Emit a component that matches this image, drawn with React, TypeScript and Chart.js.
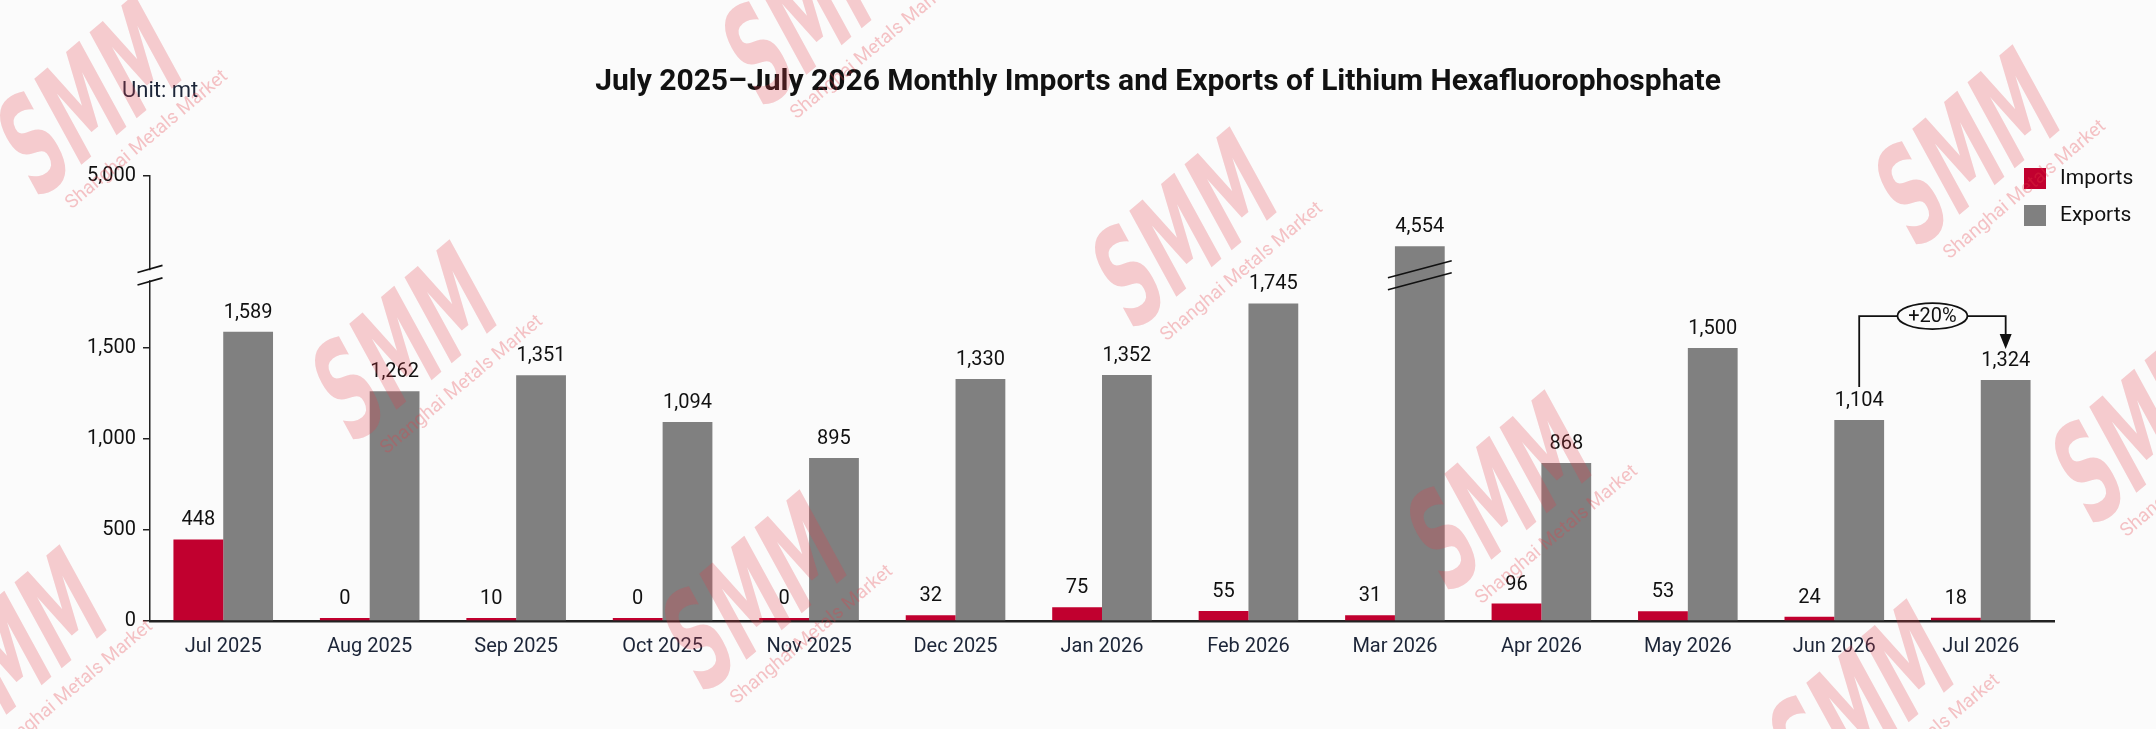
import React, { useEffect, useRef } from 'react';
import { Chart, registerables } from 'chart.js';

Chart.register(...registerables);

const months = [
  'Jul 2025', 'Aug 2025', 'Sep 2025', 'Oct 2025', 'Nov 2025', 'Dec 2025', 'Jan 2026',
  'Feb 2026', 'Mar 2026', 'Apr 2026', 'May 2026', 'Jun 2026', 'Jul 2026',
];
const imports = [448, 0, 10, 0, 0, 32, 75, 55, 31, 96, 53, 24, 18];
const exports = [1589, 1262, 1351, 1094, 895, 1330, 1352, 1745, 4554, 868, 1500, 1104, 1324];
const yTickValues = [0, 500, 1000, 1500, 5000];
const seriesNames = ['Imports', 'Exports'];
const seriesColors = ['#c1002f', '#808080'];

const TITLE = 'July 2025\u2013July 2026 Monthly Imports and Exports of Lithium Hexafluorophosphate';
const UNIT = 'Unit: mt';

// broken y axis: 0..BREAK_FROM to scale, then a gap, then BREAK_TO..5000 squeezed
const BREAK_FROM = 1875;
const BREAK_TO = 4400;
const BREAK_GAP = 50;
const UPPER_SCALE = 0.867;

const toAxis = (v: number) =>
  v <= BREAK_FROM ? v : BREAK_FROM + BREAK_GAP + Math.max(v - BREAK_TO, 0) * UPPER_SCALE;
const fromAxis = (t: number) =>
  t <= BREAK_FROM ? t : BREAK_TO + (t - BREAK_FROM - BREAK_GAP) / UPPER_SCALE;

const FONT = 'Roboto, "Noto Sans", sans-serif';
const BG = '#fbfbfb';

// watermark positions (logo centres)
const watermarks = [
  [90, 100], [815, 10], [1185, 232], [405, 345], [1500, 495], [1968, 150],
  [755, 595], [2145, 428], [15, 650], [1862, 704],
];

const fmt = (v: number) => v.toLocaleString('en-US');

function slashes(ctx: CanvasRenderingContext2D, cx: number, cy: number, halfW: number, halfDy: number, gap: number) {
  ctx.beginPath();
  ctx.moveTo(cx - halfW, cy - gap / 2 + halfDy);
  ctx.lineTo(cx + halfW, cy - gap / 2 - halfDy);
  ctx.moveTo(cx - halfW, cy + gap / 2 + halfDy);
  ctx.lineTo(cx + halfW, cy + gap / 2 - halfDy);
  ctx.stroke();
}

const overlay = {
  id: 'overlay',
  afterDatasetsDraw(chart: any) {
    const ctx: CanvasRenderingContext2D = chart.ctx;
    const yScale = chart.scales.y;
    const area = chart.chartArea;
    const breakPx = yScale.getPixelForValue(BREAK_FROM + BREAK_GAP / 2);

    ctx.save();

    // title + unit
    ctx.fillStyle = '#111';
    ctx.font = `bold 30px ${FONT}`;
    ctx.textAlign = 'center';
    ctx.textBaseline = 'middle';
    ctx.fillText(TITLE, 1158, 82);
    ctx.font = `22px ${FONT}`;
    ctx.textAlign = 'left';
    ctx.fillStyle = '#1c2538';
    ctx.fillText(UNIT, 122, 91);

    // legend
    seriesNames.forEach((name, i) => {
      const top = 168 + i * 37;
      ctx.fillStyle = seriesColors[i];
      ctx.fillRect(2024, top, 22, 21);
      ctx.fillStyle = '#111';
      ctx.font = `21px ${FONT}`;
      ctx.fillText(name, 2060, top + 11);
    });

    // value labels
    ctx.font = `20px ${FONT}`;
    ctx.textAlign = 'center';
    ctx.fillStyle = '#111';
    [imports, exports].forEach((values, di) => {
      chart.getDatasetMeta(di).data.forEach((bar: any, i: number) => {
        ctx.fillText(fmt(values[i]), bar.x, bar.y - 19);
      });
    });

    // y axis break
    ctx.fillStyle = BG;
    ctx.fillRect(area.left - 4, breakPx - 5, 8, 10);
    ctx.strokeStyle = '#111';
    ctx.lineWidth = 1.6;
    slashes(ctx, area.left, breakPx, 12.5, 3.6, 12.5);

    // bar breaks for values beyond the break
    chart.getDatasetMeta(1).data.forEach((bar: any, i: number) => {
      if (exports[i] > BREAK_FROM) {
        slashes(ctx, bar.x, breakPx, bar.width / 2 + 7, 8.5, 12);
      }
    });

    // change annotation between the last two months
    const bars = chart.getDatasetMeta(1).data;
    const a = bars[months.length - 2];
    const b = bars[months.length - 1];
    const pct = Math.round(((exports[months.length - 1] - exports[months.length - 2]) / exports[months.length - 2]) * 100);
    const hy = Math.min(a.y, b.y) - 64;
    const cx = (a.x + b.x) / 2;
    const rx = 35;
    const ry = 13;
    ctx.strokeStyle = '#111';
    ctx.lineWidth = 1.8;
    ctx.beginPath();
    ctx.moveTo(a.x, a.y - 33);
    ctx.lineTo(a.x, hy);
    ctx.lineTo(cx - rx, hy);
    ctx.moveTo(cx + rx, hy);
    ctx.lineTo(b.x, hy);
    ctx.lineTo(b.x, b.y - 45);
    ctx.stroke();
    ctx.fillStyle = '#111';
    ctx.beginPath();
    ctx.moveTo(b.x - 6, b.y - 46);
    ctx.lineTo(b.x + 6, b.y - 46);
    ctx.lineTo(b.x, b.y - 31);
    ctx.closePath();
    ctx.fill();
    ctx.beginPath();
    ctx.ellipse(cx, hy, rx, ry, 0, 0, Math.PI * 2);
    ctx.fillStyle = BG;
    ctx.fill();
    ctx.stroke();
    ctx.fillStyle = '#111';
    ctx.font = `20px ${FONT}`;
    ctx.fillText(`${pct >= 0 ? '+' : ''}${pct}%`, cx, hy + 1);

    // watermarks
    watermarks.forEach(([wx, wy]) => {
      ctx.save();
      ctx.translate(wx, wy);
      ctx.rotate((-40 * Math.PI) / 180);
      ctx.fillStyle = 'rgba(228, 60, 70, 0.25)';
      ctx.textAlign = 'center';
      ctx.textBaseline = 'alphabetic';
      ctx.save();
      ctx.transform(0.55, 0, -0.2, 1, 0, 0);
      ctx.font = `bold 132px "DejaVu Sans", ${FONT}`;
      ctx.fillText('SMM', 0, 44);
      ctx.restore();
      ctx.fillStyle = 'rgba(228, 60, 70, 0.3)';
      ctx.font = `19px ${FONT}`;
      ctx.fillText('Shanghai Metals Market', 18, 72);
      ctx.restore();
    });

    ctx.restore();
  },
};

export default function App() {
  const canvasRef = useRef<HTMLCanvasElement | null>(null);
  const chartRef = useRef<Chart | null>(null);

  useEffect(() => {
    document.body.style.margin = '0';
    if (!canvasRef.current) return;
    const ctx = canvasRef.current.getContext('2d');
    if (!ctx) return;

    chartRef.current = new Chart(ctx, {
      type: 'bar',
      data: {
        labels: months,
        datasets: [
          {
            label: seriesNames[0],
            data: imports.map(toAxis),
            backgroundColor: seriesColors[0],
            minBarLength: 3,
          },
          {
            label: seriesNames[1],
            data: exports.map(toAxis),
            backgroundColor: seriesColors[1],
          },
        ],
      },
      options: {
        animation: false,
        responsive: true,
        maintainAspectRatio: false,
        datasets: { bar: { categoryPercentage: 0.68, barPercentage: 1.0 } },
        layout: { padding: { top: 176, right: 102, bottom: 0, left: 0 } },
        plugins: {
          legend: { display: false },
          tooltip: { enabled: false },
          title: { display: false },
        },
        scales: {
          x: {
            grid: { display: false },
            border: { display: true, color: '#222', width: 2.5 },
            ticks: { color: '#1c2538', font: { family: FONT, size: 20 }, padding: 6 },
            afterFit: (s: any) => { s.height = 108; },
          },
          y: {
            min: 0,
            max: toAxis(5000),
            grid: { drawOnChartArea: false, drawTicks: true, tickLength: 7, color: '#222', lineWidth: 1.5 },
            border: { display: true, color: '#222', width: 1.5 },
            afterBuildTicks: (s: any) => {
              s.ticks = yTickValues.map((v) => ({ value: toAxis(v) }));
            },
            ticks: {
              color: '#111',
              font: { family: FONT, size: 20 },
              padding: 7,
              callback: (v: any) => fmt(Math.round(fromAxis(Number(v)))),
            },
            afterFit: (s: any) => { s.width = 150; },
          },
        },
      },
      plugins: [overlay],
    });

    return () => {
      chartRef.current?.destroy();
      chartRef.current = null;
    };
  }, []);

  return (
    <div style={{ width: 2156, height: 729, position: 'relative', background: BG }}>
      <canvas ref={canvasRef}></canvas>
    </div>
  );
}
